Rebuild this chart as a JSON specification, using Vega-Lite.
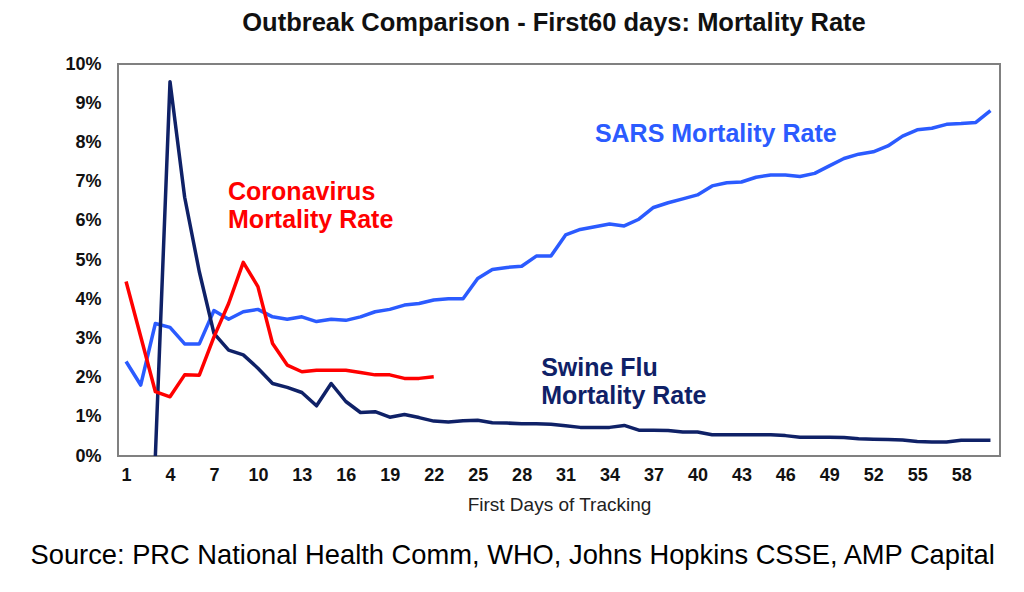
{
  "$schema": "https://vega.github.io/schema/vega-lite/v6.json",
  "description": "Outbreak comparison, first 60 days: mortality rate of Coronavirus, SARS and Swine Flu",
  "autosize": {"type": "none"},
  "width": 882,
  "height": 392,
  "padding": {"left": 118, "top": 64, "right": 24, "bottom": 136},
  "background": "white",
  "title": {
    "text": "Outbreak Comparison - First60 days: Mortality Rate",
    "font": "Liberation Sans",
    "fontSize": 25.5,
    "fontWeight": "bold",
    "color": "#111111",
    "anchor": "middle",
    "dx": -5,
    "offset": 19
  },
  "config": {
    "view": {"stroke": "#808080", "strokeWidth": 2},
    "font": "Liberation Sans"
  },
  "datasets": {
    "rates": [
      {"series": "SARS", "day": 1, "rate": 2.41}, {"series": "SARS", "day": 2, "rate": 1.81},
      {"series": "SARS", "day": 3, "rate": 3.38}, {"series": "SARS", "day": 4, "rate": 3.28},
      {"series": "SARS", "day": 5, "rate": 2.86}, {"series": "SARS", "day": 6, "rate": 2.86},
      {"series": "SARS", "day": 7, "rate": 3.71}, {"series": "SARS", "day": 8, "rate": 3.49},
      {"series": "SARS", "day": 9, "rate": 3.68}, {"series": "SARS", "day": 10, "rate": 3.74},
      {"series": "SARS", "day": 11, "rate": 3.55}, {"series": "SARS", "day": 12, "rate": 3.49},
      {"series": "SARS", "day": 13, "rate": 3.55}, {"series": "SARS", "day": 14, "rate": 3.43},
      {"series": "SARS", "day": 15, "rate": 3.49}, {"series": "SARS", "day": 16, "rate": 3.46},
      {"series": "SARS", "day": 17, "rate": 3.55}, {"series": "SARS", "day": 18, "rate": 3.68},
      {"series": "SARS", "day": 19, "rate": 3.74}, {"series": "SARS", "day": 20, "rate": 3.85},
      {"series": "SARS", "day": 21, "rate": 3.89}, {"series": "SARS", "day": 22, "rate": 3.98},
      {"series": "SARS", "day": 23, "rate": 4.01}, {"series": "SARS", "day": 24, "rate": 4.01},
      {"series": "SARS", "day": 25, "rate": 4.53}, {"series": "SARS", "day": 26, "rate": 4.76},
      {"series": "SARS", "day": 27, "rate": 4.81}, {"series": "SARS", "day": 28, "rate": 4.84},
      {"series": "SARS", "day": 29, "rate": 5.10}, {"series": "SARS", "day": 30, "rate": 5.10},
      {"series": "SARS", "day": 31, "rate": 5.64}, {"series": "SARS", "day": 32, "rate": 5.78},
      {"series": "SARS", "day": 33, "rate": 5.85}, {"series": "SARS", "day": 34, "rate": 5.92},
      {"series": "SARS", "day": 35, "rate": 5.87}, {"series": "SARS", "day": 36, "rate": 6.04},
      {"series": "SARS", "day": 37, "rate": 6.34}, {"series": "SARS", "day": 38, "rate": 6.46},
      {"series": "SARS", "day": 39, "rate": 6.56}, {"series": "SARS", "day": 40, "rate": 6.66},
      {"series": "SARS", "day": 41, "rate": 6.89}, {"series": "SARS", "day": 42, "rate": 6.97},
      {"series": "SARS", "day": 43, "rate": 6.99}, {"series": "SARS", "day": 44, "rate": 7.11},
      {"series": "SARS", "day": 45, "rate": 7.17}, {"series": "SARS", "day": 46, "rate": 7.17},
      {"series": "SARS", "day": 47, "rate": 7.13}, {"series": "SARS", "day": 48, "rate": 7.21},
      {"series": "SARS", "day": 49, "rate": 7.40}, {"series": "SARS", "day": 50, "rate": 7.59},
      {"series": "SARS", "day": 51, "rate": 7.70}, {"series": "SARS", "day": 52, "rate": 7.76},
      {"series": "SARS", "day": 53, "rate": 7.91}, {"series": "SARS", "day": 54, "rate": 8.16},
      {"series": "SARS", "day": 55, "rate": 8.32}, {"series": "SARS", "day": 56, "rate": 8.36},
      {"series": "SARS", "day": 57, "rate": 8.46}, {"series": "SARS", "day": 58, "rate": 8.48},
      {"series": "SARS", "day": 59, "rate": 8.51}, {"series": "SARS", "day": 60, "rate": 8.81},

      {"series": "Swine Flu", "day": 3, "rate": 0}, {"series": "Swine Flu", "day": 4, "rate": 9.55},
      {"series": "Swine Flu", "day": 5, "rate": 6.6}, {"series": "Swine Flu", "day": 6, "rate": 4.7},
      {"series": "Swine Flu", "day": 7, "rate": 3.13}, {"series": "Swine Flu", "day": 8, "rate": 2.70},
      {"series": "Swine Flu", "day": 9, "rate": 2.58}, {"series": "Swine Flu", "day": 10, "rate": 2.24},
      {"series": "Swine Flu", "day": 11, "rate": 1.85}, {"series": "Swine Flu", "day": 12, "rate": 1.75},
      {"series": "Swine Flu", "day": 13, "rate": 1.62}, {"series": "Swine Flu", "day": 14, "rate": 1.28},
      {"series": "Swine Flu", "day": 15, "rate": 1.85}, {"series": "Swine Flu", "day": 16, "rate": 1.39},
      {"series": "Swine Flu", "day": 17, "rate": 1.11}, {"series": "Swine Flu", "day": 18, "rate": 1.13},
      {"series": "Swine Flu", "day": 19, "rate": 0.99}, {"series": "Swine Flu", "day": 20, "rate": 1.06},
      {"series": "Swine Flu", "day": 21, "rate": 0.98}, {"series": "Swine Flu", "day": 22, "rate": 0.89},
      {"series": "Swine Flu", "day": 23, "rate": 0.87}, {"series": "Swine Flu", "day": 24, "rate": 0.90},
      {"series": "Swine Flu", "day": 25, "rate": 0.91}, {"series": "Swine Flu", "day": 26, "rate": 0.85},
      {"series": "Swine Flu", "day": 27, "rate": 0.84}, {"series": "Swine Flu", "day": 28, "rate": 0.82},
      {"series": "Swine Flu", "day": 29, "rate": 0.82}, {"series": "Swine Flu", "day": 30, "rate": 0.81},
      {"series": "Swine Flu", "day": 31, "rate": 0.77}, {"series": "Swine Flu", "day": 32, "rate": 0.73},
      {"series": "Swine Flu", "day": 33, "rate": 0.73}, {"series": "Swine Flu", "day": 34, "rate": 0.73},
      {"series": "Swine Flu", "day": 35, "rate": 0.78}, {"series": "Swine Flu", "day": 36, "rate": 0.66},
      {"series": "Swine Flu", "day": 37, "rate": 0.66}, {"series": "Swine Flu", "day": 38, "rate": 0.65},
      {"series": "Swine Flu", "day": 39, "rate": 0.61}, {"series": "Swine Flu", "day": 40, "rate": 0.61},
      {"series": "Swine Flu", "day": 41, "rate": 0.54}, {"series": "Swine Flu", "day": 42, "rate": 0.54},
      {"series": "Swine Flu", "day": 43, "rate": 0.54}, {"series": "Swine Flu", "day": 44, "rate": 0.54},
      {"series": "Swine Flu", "day": 45, "rate": 0.54}, {"series": "Swine Flu", "day": 46, "rate": 0.52},
      {"series": "Swine Flu", "day": 47, "rate": 0.48}, {"series": "Swine Flu", "day": 48, "rate": 0.48},
      {"series": "Swine Flu", "day": 49, "rate": 0.48}, {"series": "Swine Flu", "day": 50, "rate": 0.47},
      {"series": "Swine Flu", "day": 51, "rate": 0.44}, {"series": "Swine Flu", "day": 52, "rate": 0.43},
      {"series": "Swine Flu", "day": 53, "rate": 0.42}, {"series": "Swine Flu", "day": 54, "rate": 0.41},
      {"series": "Swine Flu", "day": 55, "rate": 0.37}, {"series": "Swine Flu", "day": 56, "rate": 0.36},
      {"series": "Swine Flu", "day": 57, "rate": 0.36}, {"series": "Swine Flu", "day": 58, "rate": 0.40},
      {"series": "Swine Flu", "day": 59, "rate": 0.40}, {"series": "Swine Flu", "day": 60, "rate": 0.40},

      {"series": "Coronavirus", "day": 1, "rate": 4.45}, {"series": "Coronavirus", "day": 2, "rate": 3.05},
      {"series": "Coronavirus", "day": 3, "rate": 1.64}, {"series": "Coronavirus", "day": 4, "rate": 1.51},
      {"series": "Coronavirus", "day": 5, "rate": 2.07}, {"series": "Coronavirus", "day": 6, "rate": 2.06},
      {"series": "Coronavirus", "day": 7, "rate": 3.04}, {"series": "Coronavirus", "day": 8, "rate": 3.89},
      {"series": "Coronavirus", "day": 9, "rate": 4.94}, {"series": "Coronavirus", "day": 10, "rate": 4.32},
      {"series": "Coronavirus", "day": 11, "rate": 2.87}, {"series": "Coronavirus", "day": 12, "rate": 2.32},
      {"series": "Coronavirus", "day": 13, "rate": 2.15}, {"series": "Coronavirus", "day": 14, "rate": 2.19},
      {"series": "Coronavirus", "day": 15, "rate": 2.19}, {"series": "Coronavirus", "day": 16, "rate": 2.19},
      {"series": "Coronavirus", "day": 17, "rate": 2.13}, {"series": "Coronavirus", "day": 18, "rate": 2.07},
      {"series": "Coronavirus", "day": 19, "rate": 2.07}, {"series": "Coronavirus", "day": 20, "rate": 1.98},
      {"series": "Coronavirus", "day": 21, "rate": 1.98}, {"series": "Coronavirus", "day": 22, "rate": 2.02}
    ],
    "labels": [
      {"series": "SARS", "day": 33.0, "rate": 8.01, "label": "SARS Mortality Rate"},
      {"series": "Coronavirus", "day": 7.96, "rate": 6.53, "label": "Coronavirus\nMortality Rate"},
      {"series": "Swine Flu", "day": 29.33, "rate": 2.04, "label": "Swine Flu\nMortality Rate"}
    ]
  },
  "resolve": {"scale": {"x": "independent"}},
  "encoding": {
    "y": {
      "field": "rate",
      "type": "quantitative",
      "scale": {"domain": [0, 10], "nice": false},
      "axis": {
        "values": [0, 1, 2, 3, 4, 5, 6, 7, 8, 9, 10],
        "labelExpr": "datum.value + '%'",
        "grid": false,
        "ticks": false,
        "domain": false,
        "labelFont": "Liberation Sans",
        "labelFontSize": 18,
        "labelFontWeight": "bold",
        "labelColor": "#111111",
        "labelPadding": 17,
        "labelOverlap": false,
        "labelFlush": false,
        "title": null
      }
    },
    "color": {
      "field": "series",
      "type": "nominal",
      "scale": {
        "domain": ["SARS", "Swine Flu", "Coronavirus"],
        "range": ["#2b5bff", "#0f2167", "#ff0000"]
      },
      "legend": null
    }
  },
  "layer": [
    {
      "data": {"name": "rates"},
      "mark": {"type": "line", "strokeWidth": 3.5, "strokeJoin": "round"},
      "encoding": {
        "x": {
          "field": "day",
          "type": "quantitative",
          "scale": {"domain": [0.45, 60.65], "nice": false, "zero": false},
          "axis": {
            "values": [1, 4, 7, 10, 13, 16, 19, 22, 25, 28, 31, 34, 37, 40, 43, 46, 49, 52, 55, 58],
            "grid": false,
            "ticks": false,
            "domain": false,
            "labelFont": "Liberation Sans",
            "labelFontSize": 18,
            "labelFontWeight": "bold",
            "labelColor": "#111111",
            "labelPadding": 10,
            "labelFlush": false,
            "labelOverlap": false,
            "title": "First Days of Tracking",
            "titleFont": "Liberation Sans",
            "titleFontSize": 19,
            "titleFontWeight": "normal",
            "titleColor": "#222222",
            "titlePadding": 11
          }
        }
      }
    },
    {
      "data": {"name": "labels"},
      "mark": {
        "type": "text",
        "align": "left",
        "baseline": "alphabetic",
        "font": "Liberation Sans",
        "fontSize": 25,
        "fontWeight": "bold",
        "lineBreak": "\n",
        "lineHeight": 28
      },
      "encoding": {
        "x": {
          "field": "day",
          "type": "quantitative",
          "scale": {"domain": [0.45, 60.65], "nice": false, "zero": false},
          "axis": {
            "orient": "bottom",
            "labels": false,
            "ticks": false,
            "domain": false,
            "grid": false,
            "title": "Source: PRC National Health Comm, WHO, Johns Hopkins CSSE, AMP Capital",
            "titleFont": "Liberation Sans",
            "titleFontSize": 27.3,
            "titleFontWeight": "normal",
            "titleColor": "#000000",
            "titleAlign": "left",
            "titleX": -88,
            "titlePadding": 85
          }
        },
        "text": {"field": "label"}
      }
    }
  ]
}
